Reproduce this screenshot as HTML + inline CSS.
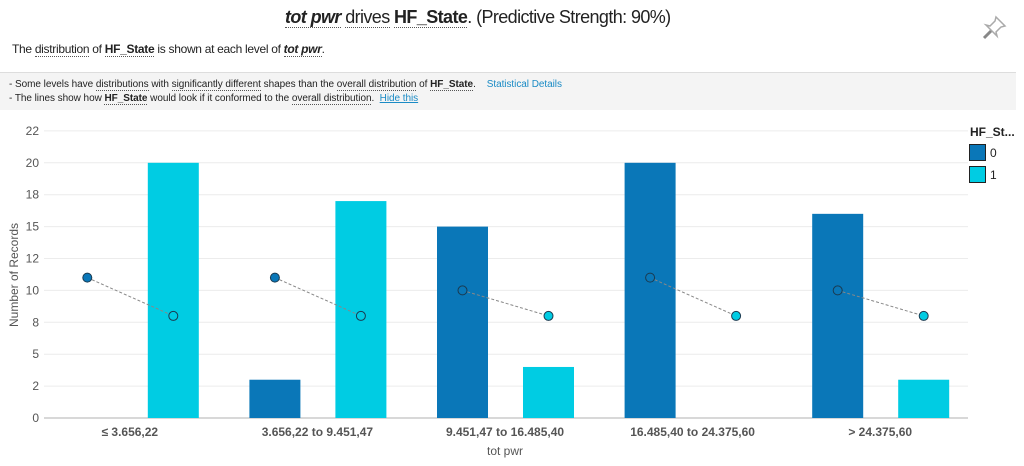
<!DOCTYPE html>
<html><head><meta charset="utf-8"><style>
body{margin:0;width:1024px;height:466px;background:#fff;font-family:"Liberation Sans",sans-serif;position:relative;overflow:hidden;color:#222}
.u{border-bottom:1px dotted #555}
#title{position:absolute;left:285px;top:7px;white-space:nowrap;font-size:18px;letter-spacing:-0.6px}
#sub{position:absolute;left:12px;top:42px;font-size:12px;letter-spacing:-0.3px}
#info{position:absolute;left:0;top:72px;width:1016px;height:38px;background:#f4f4f4;border-top:1px solid #ddd;font-size:10px;letter-spacing:-0.05px;line-height:14px;padding-top:5px;box-sizing:border-box;padding-left:9px}
a{color:#1a8bc5;text-decoration:none}
</style></head><body>
<div id="title"><b><i class="u">tot pwr</i></b> <span class="u">drives</span> <b class="u">HF_State</b>. (Predictive Strength: 90%)</div>
<svg style="position:absolute;left:982px;top:14px" width="26" height="26"><g fill="none" stroke="#aaa" stroke-width="1.5"><path d="M14 3 L23 12 L19 13 L14 18 L15 22 L4 11 L8 12 L13 7 Z"/><path d="M9 17 L2 24" stroke="#888" stroke-width="3"/></g></svg>
<div id="sub">The <span class="u">distribution</span> of <b class="u">HF_State</b> is shown at each level of <b><i class="u">tot pwr</i></b>.</div>
<div id="info">- Some levels have <span class="u">distributions</span> with <span class="u">significantly different</span> shapes than the <span class="u">overall distribution</span> of <b class="u">HF_State</b>. &nbsp;&nbsp; <a>Statistical Details</a><br>- The lines show how <b class="u">HF_State</b> would look if it conformed to the <span class="u">overall distribution</span>. &nbsp;<a style="text-decoration:underline">Hide this</a></div>
<svg id="chart" width="1024" height="466" style="position:absolute;left:0;top:0"></svg>
<script>
const categories=["≤ 3.656,22","3.656,22 to 9.451,47","9.451,47 to 16.485,40","16.485,40 to 24.375,60","> 24.375,60"];
const series0=[0,3,15,20,16];
const series1=[20,17,4,0,3];
const expected0=[11,11,10,11,10];
const expected1=[8,8,8,8,8];
const tickValues=[0,2.5,5,7.5,10,12.5,15,17.5,20,22.5];
const tickLabels=["0","2","5","8","10","12","15","18","20","22"];
const svg=document.getElementById('chart');const NS="http://www.w3.org/2000/svg";
function el(t,a,p){const e=document.createElementNS(NS,t);for(const k in a)e.setAttribute(k,a[k]);(p||svg).appendChild(e);return e;}
const y=v=>418-v*12.76;const x0=36,step=187.6;const cx=i=>x0+step*(i+0.5);
tickValues.forEach((v,i)=>{
 const g=el('line',{x1:44,x2:968,y1:y(v),y2:y(v),stroke:i==0?'#ccc':'#ececec','stroke-width':i==0?1.5:1});
 
 const t=el('text',{x:39,y:y(v)+4,'text-anchor':'end','font-size':12,fill:'#555'});t.textContent=tickLabels[i];
 
});
const yt=el('text',{x:18,y:275,transform:'rotate(-90 18 275)','text-anchor':'middle','font-size':12,fill:'#555'});yt.textContent='Number of Records';

const xt=el('text',{x:505,y:455,'text-anchor':'middle','font-size':12,fill:'#555'});xt.textContent='tot pwr';

categories.forEach((c,i)=>{
 const a=cx(i)-68,b=cx(i)+18,w=51;
 const r0=el('rect',{x:a,y:y(series0[i]),width:w,height:418-y(series0[i]),fill:'#0a77b8'});
 
 const r1=el('rect',{x:b,y:y(series1[i]),width:w,height:418-y(series1[i]),fill:'#00cce3'});
 
 const l=el('line',{x1:a+w/2,y1:y(expected0[i]),x2:b+w/2,y2:y(expected1[i]),stroke:'#888','stroke-dasharray':'3,2'});
 
 const p0=el('circle',{cx:a+w/2,cy:y(expected0[i]),r:4.5,fill:'#0a77b8',stroke:'#1a3a50'});
 
 const p1=el('circle',{cx:b+w/2,cy:y(expected1[i]),r:4.5,fill:'#00cce3',stroke:'#1a3a50'});
 
 const t=el('text',{x:cx(i),y:436,'text-anchor':'middle','font-size':12,'font-weight':'bold',fill:'#555'});t.textContent=c;
 
});
const lt=el('text',{x:970,y:136,'font-size':12,'font-weight':'bold',fill:'#222'});lt.textContent='HF_St...';

[['#0a77b8','0'],['#00cce3','1']].forEach((d,i)=>{
 const r=el('rect',{x:969.5,y:144.5+i*22,width:16,height:16,fill:d[0],stroke:'#222'});
 
 const t=el('text',{x:990,y:157+i*22,'font-size':12,fill:'#222'});t.textContent=d[1];
 
});
</script>
</body></html>
